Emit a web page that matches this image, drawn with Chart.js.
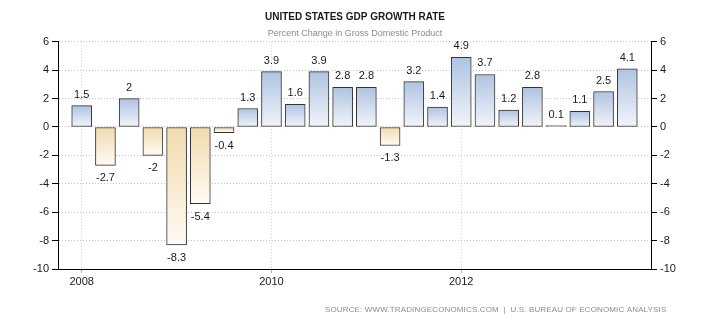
<!DOCTYPE html>
<html>
<head>
<meta charset="utf-8">
<script src="https://cdn.jsdelivr.net/npm/chart.js@4/dist/chart.umd.min.js"></script>
<style>
  html, body { margin: 0; padding: 0; background: #fff; }
  #wrap { width: 710px; height: 325px; }
</style>
</head>
<body>
<div id="wrap"><canvas id="c" width="710" height="325"></canvas></div>
<script>
// Quarterly US GDP growth, annualised percent change
const quarters = [
  '2008Q1','2008Q2','2008Q3','2008Q4',
  '2009Q1','2009Q2','2009Q3','2009Q4',
  '2010Q1','2010Q2','2010Q3','2010Q4',
  '2011Q1','2011Q2','2011Q3','2011Q4',
  '2012Q1','2012Q2','2012Q3','2012Q4',
  '2013Q1','2013Q2','2013Q3','2013Q4'
];
const growth = [
  1.5, -2.7, 2, -2,
  -8.3, -5.4, -0.4, 1.3,
  3.9, 1.6, 3.9, 2.8,
  2.8, -1.3, 3.2, 1.4,
  4.9, 3.7, 1.2, 2.8,
  0.1, 1.1, 2.5, 4.1
];
const yearTicks = ['2008', '2010', '2012'];
const yMin = -10, yMax = 6, yStep = 2;

const titleText = 'UNITED STATES GDP GROWTH RATE';
const subtitleText = 'Percent Change in Gross Domestic Product';
const sourceText = 'SOURCE: WWW.TRADINGECONOMICS.COM  |  U.S. BUREAU OF ECONOMIC ANALYSIS';

const FONT = "'Liberation Sans', Arial, sans-serif";
Chart.defaults.font.family = FONT;

// Vertical gradient per bar: tinted at the value end for gains,
// tinted at the zero end for losses, fading to near white.
function barFill(ctx) {
  const chart = ctx.chart;
  const ys = chart.scales && chart.scales.y;
  if (!ys || !ctx.parsed || ctx.type !== 'data') return '#c8d6ea';
  const v = ctx.parsed.y;
  const pv = ys.getPixelForValue(v);
  const p0 = ys.getPixelForValue(0);
  if (!isFinite(pv) || !isFinite(p0)) return v >= 0 ? '#c8d6ea' : '#f4e4c2';
  const top = Math.min(pv, p0), bot = Math.max(pv, p0);
  if (bot - top < 0.5) return v >= 0 ? '#dfe7f3' : '#f6ead2';
  const g = chart.ctx.createLinearGradient(0, top, 0, bot);
  if (v >= 0) {
    g.addColorStop(0, '#afc3e1');
    g.addColorStop(1, '#f2f5fa');
  } else {
    g.addColorStop(0, '#f2daac');
    g.addColorStop(1, '#fefbf5');
  }
  return g;
}

// Value labels above gains and below losses
const valueLabels = {
  id: 'valueLabels',
  afterDatasetsDraw(chart) {
    const c = chart.ctx;
    const meta = chart.getDatasetMeta(0);
    c.save();
    c.font = '11px ' + FONT;
    c.fillStyle = '#1a1a1a';
    c.textAlign = 'center';
    c.textBaseline = 'middle';
    meta.data.forEach((bar, i) => {
      const v = growth[i];
      const yv = chart.scales.y.getPixelForValue(v);
      const y0 = chart.scales.y.getPixelForValue(0);
      const y = v >= 0 ? Math.min(yv, y0) - 11 : Math.max(yv, y0) + 13;
      c.fillText(String(v), bar.x, y);
    });
    c.restore();
  }
};

// Source line in the bottom right corner, spread to its box
const sourceNote = {
  id: 'sourceNote',
  afterDraw(chart) {
    const c = chart.ctx;
    c.save();
    c.font = '8px ' + FONT;
    c.fillStyle = '#8c8c8c';
    c.textBaseline = 'middle';
    const left = 325, right = 666;
    const plain = c.measureText(sourceText).width;
    const n = sourceText.length - 1;
    const sp = Math.max(0, (right - left - plain) / n);
    if ('letterSpacing' in c) {
      c.letterSpacing = sp.toFixed(2) + 'px';
      c.textAlign = 'left';
      c.fillText(sourceText, left, 310);
    } else {
      let x = left;
      for (const ch of sourceText) {
        c.fillText(ch, x, 310);
        x += c.measureText(ch).width + sp;
      }
    }
    c.restore();
  }
};

const points = growth.map((v, i) => ({ x: i, y: v }));

new Chart(document.getElementById('c'), {
  type: 'bar',
  data: {
    labels: quarters,
    datasets: [{
      label: 'GDP growth',
      data: points,
      backgroundColor: barFill,
      borderColor: '#333333',
      borderWidth: 1,
      borderSkipped: false,
      barThickness: 20
    }]
  },
  options: {
    responsive: false,
    animation: false,
    devicePixelRatio: 1,
    layout: { padding: { left: 0, right: 0, top: 0, bottom: 26 } },
    plugins: {
      legend: { display: false },
      tooltip: { enabled: false },
      title: {
        display: true,
        text: titleText,
        color: '#1a1a1a',
        font: { size: 10, weight: 'bold' },
        padding: { top: 11, bottom: 5 }
      },
      subtitle: {
        display: true,
        text: subtitleText,
        color: '#8a8a8a',
        font: { size: 9 },
        padding: { top: 0, bottom: 3 }
      }
    },
    scales: {
      x: {
        type: 'linear',
        min: -1,
        max: quarters.length,
        offset: false,
        afterBuildTicks(scale) {
          scale.ticks = yearTicks.map(y => ({ value: quarters.indexOf(y + 'Q1') }));
        },
        afterFit(scale) { scale.height = 30; },
        ticks: {
          callback: v => quarters[v] ? quarters[v].slice(0, 4) : '',
          color: '#1a1a1a',
          font: { size: 11 },
          padding: 2,
          maxRotation: 0,
          autoSkip: false
        },
        grid: {
          offset: false,
          color: '#cfcfcf',
          tickColor: '#b0b0b0',
          tickLength: 4
        },
        border: { color: '#000', width: 1, dash: [1, 2] }
      },
      y: {
        position: 'left',
        min: yMin,
        max: yMax,
        afterFit(scale) { scale.width = 58; },
        ticks: {
          stepSize: yStep,
          color: '#1a1a1a',
          font: { size: 11 },
          padding: 3
        },
        grid: {
          color: '#c4c4c4',
          tickColor: '#000',
          tickLength: 6
        },
        border: { color: '#000', width: 1, dash: [1, 2] }
      },
      y2: {
        position: 'right',
        min: yMin,
        max: yMax,
        afterFit(scale) { scale.width = 59; },
        ticks: {
          stepSize: yStep,
          color: '#1a1a1a',
          font: { size: 11 },
          padding: 3
        },
        grid: {
          drawOnChartArea: false,
          tickColor: '#000',
          tickLength: 6
        },
        border: { color: '#000', width: 1 }
      }
    }
  },
  plugins: [valueLabels, sourceNote]
});
</script>
</body>
</html>
